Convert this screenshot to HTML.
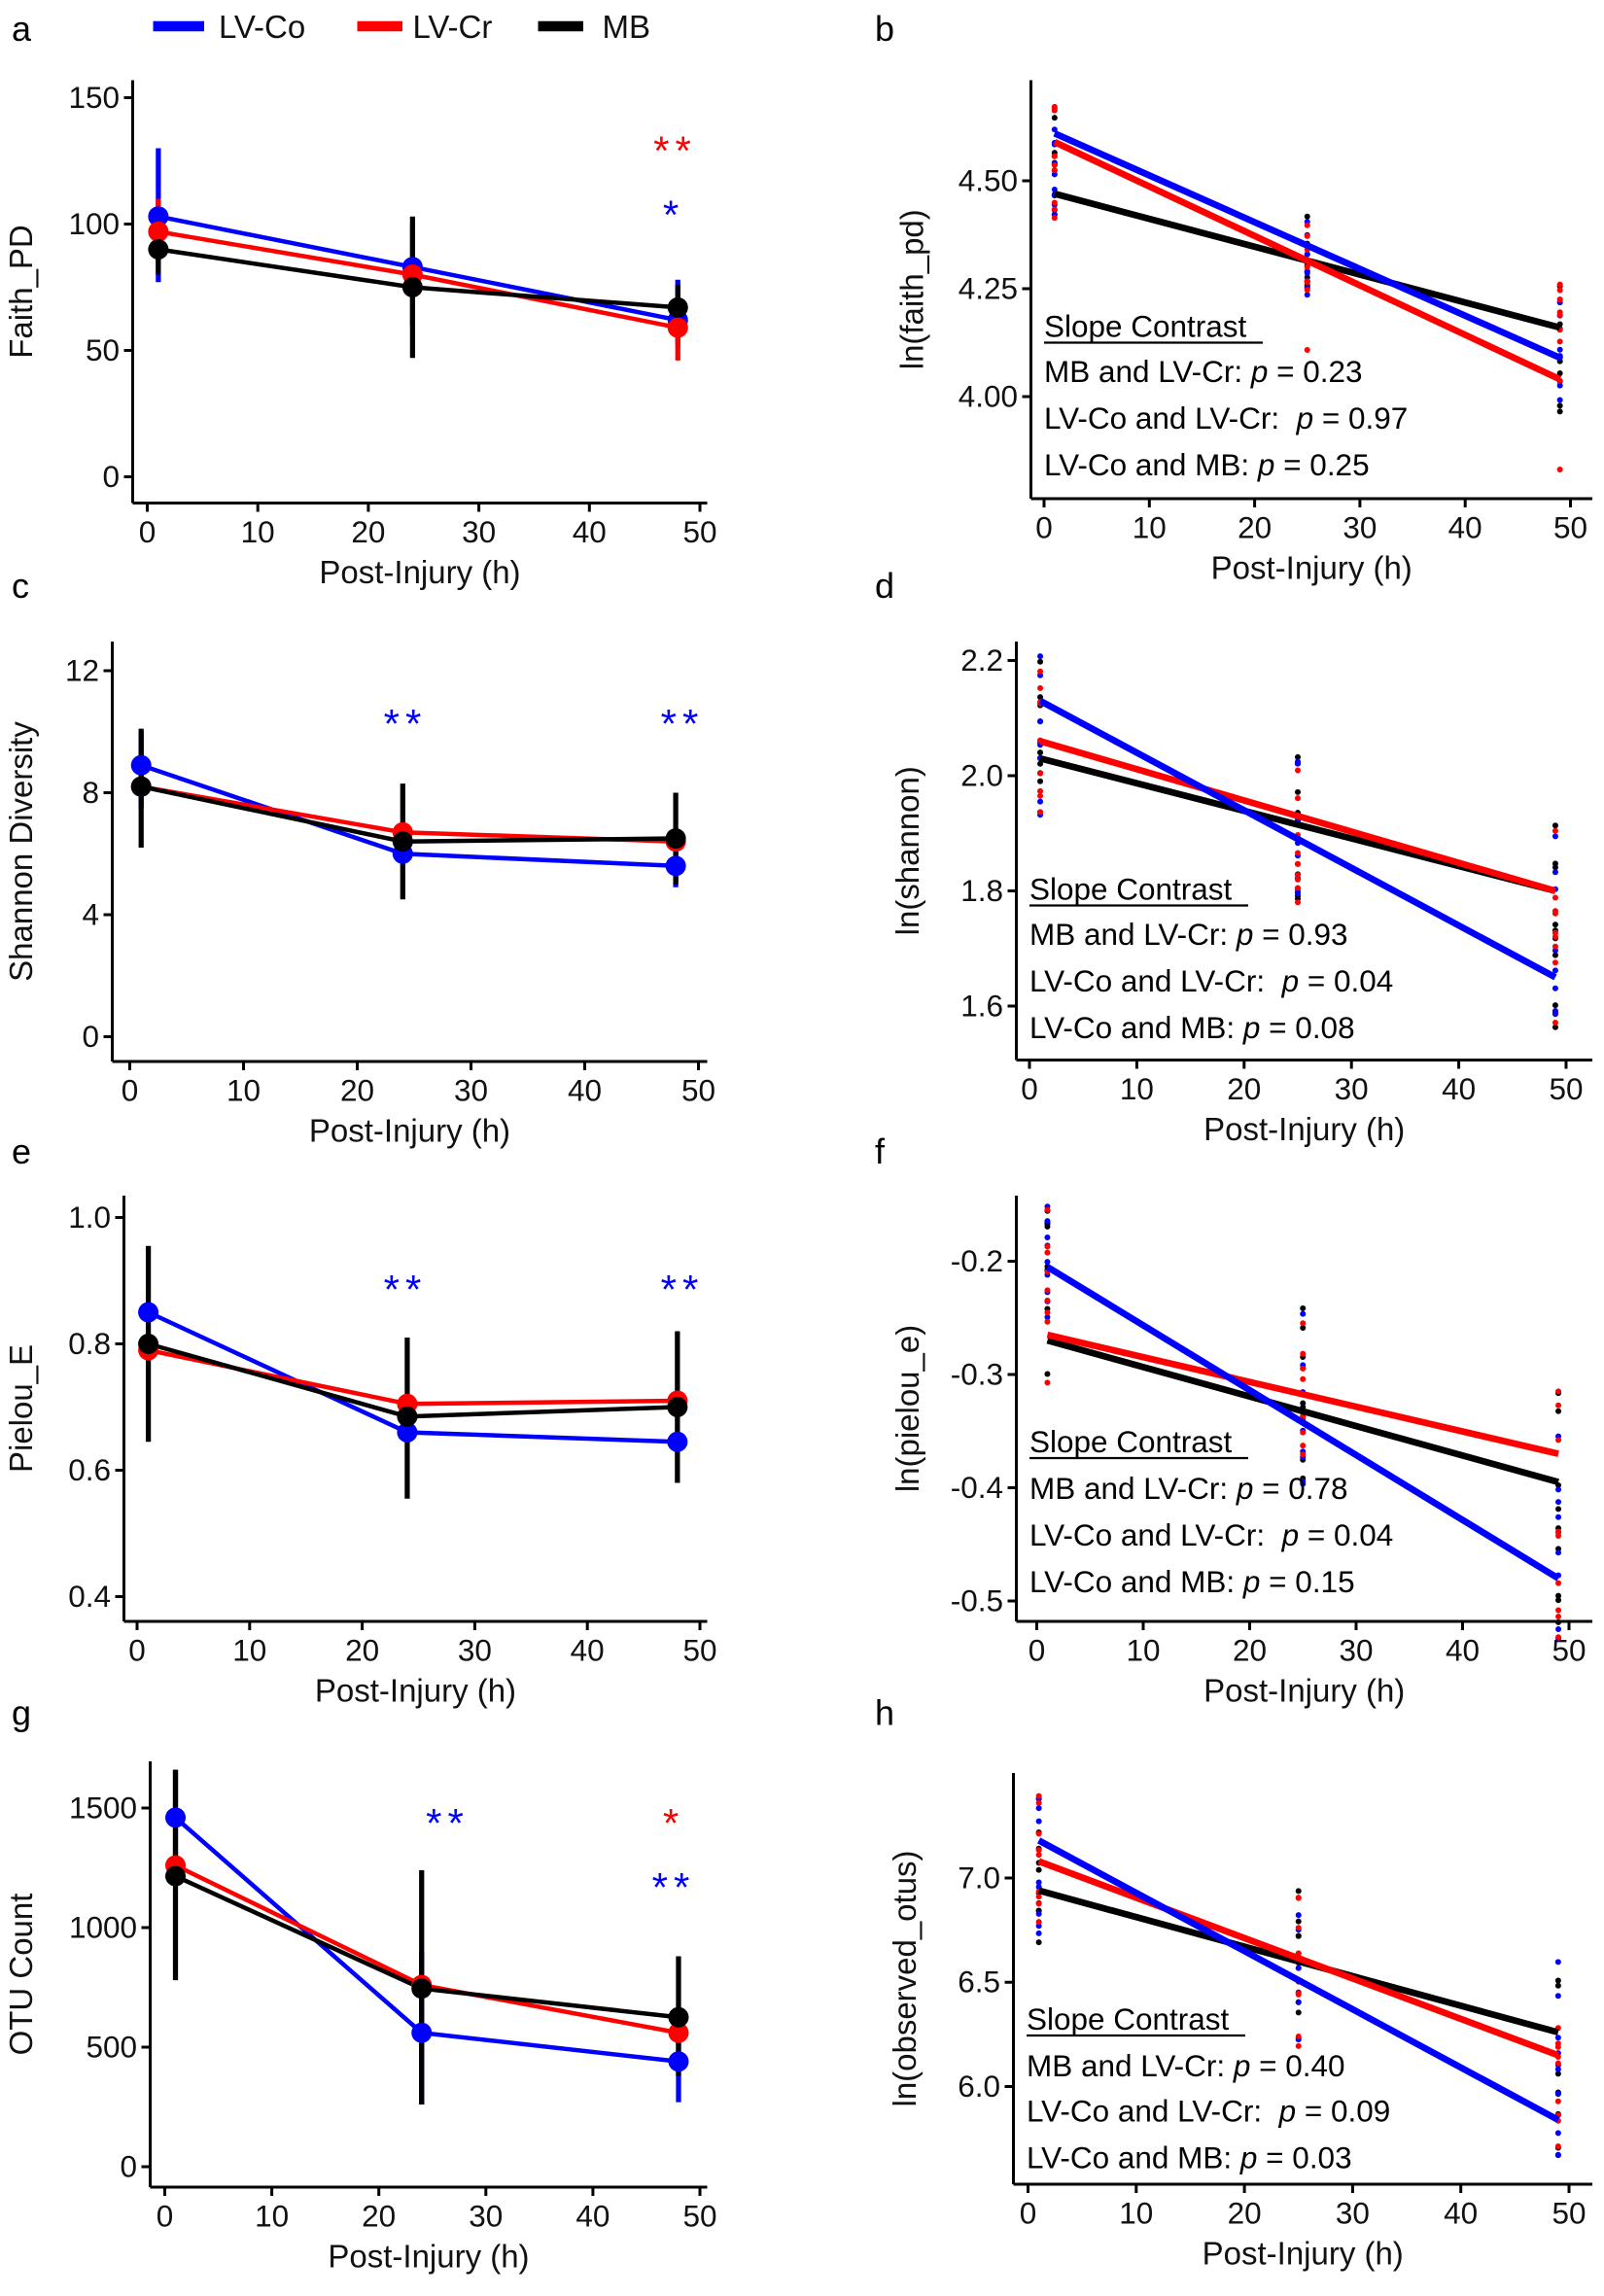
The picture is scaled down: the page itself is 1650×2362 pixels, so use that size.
<!DOCTYPE html>
<html><head><meta charset="utf-8">
<style>
html,body{margin:0;padding:0;background:#fff;}
svg{display:block;}
text{font-family:"Liberation Sans",sans-serif;}
.tk{font-family:"Liberation Sans Narrow","Liberation Sans",sans-serif;font-size:21px;fill:#111;}
.at{font-size:22px;fill:#111;}
.pl{font-size:24px;fill:#000;}
.sc{font-size:21px;fill:#000;}
</style></head><body>
<svg id="s" width="1650" height="2362" viewBox="0 0 1100 1574.67" xmlns="http://www.w3.org/2000/svg"></svg>
<script>
const S=document.getElementById('s');let h='';
const C={b:'#0000ff',r:'#ff0000',k:'#000000'};
function lin(a0,p0,a1,p1){return v=>p0+(v-a0)*(p1-p0)/(a1-a0);}
function axes(o){
 const X=lin(0,o.x0,50,o.x50),Y=lin(o.yt[0],o.yp[0],o.yt[1],o.yp[1]);
 h+=`<line x1="${o.ax}" y1="${o.top}" x2="${o.ax}" y2="${o.ay}" stroke="#000" stroke-width="2"/>`;
 h+=`<line x1="${o.ax}" y1="${o.ay}" x2="${o.right}" y2="${o.ay}" stroke="#000" stroke-width="2"/>`;
 for(let t=0;t<=50;t+=10){const x=X(t);h+=`<line x1="${x}" y1="${o.ay}" x2="${x}" y2="${o.ay+6}" stroke="#000" stroke-width="2"/><text class="tk" x="${x}" y="${o.ay+27}" text-anchor="middle">${t}</text>`;}
 o.yticks.forEach(t=>{const y=Y(t[0]);h+=`<line x1="${o.ax-6}" y1="${y}" x2="${o.ax}" y2="${y}" stroke="#000" stroke-width="2"/><text class="tk" x="${o.ax-9}" y="${y+7}" text-anchor="end">${t[1]}</text>`;});
 h+=`<text class="at" x="${(o.ax+o.right)/2}" y="${o.ay+55}" text-anchor="middle">Post-Injury (h)</text>`;
 const cy=(o.top+o.ay)/2;
 h+=`<text class="at" x="0" y="0" text-anchor="middle" transform="translate(${o.lx},${cy}) rotate(-90)">${o.yl}</text>`;
 return [X,Y];
}
function left(o,data,err,stars){
 const [X,Y]=axes(o);
 err.forEach(e=>{h+=`<line x1="${X(e[0])}" y1="${Y(e[2])}" x2="${X(e[0])}" y2="${Y(e[3])}" stroke="${C[e[1]]}" stroke-width="3.5"/>`;});
 ['b','r','k'].forEach(c=>{const d=data[c];h+=`<polyline fill="none" stroke="${C[c]}" stroke-width="3" points="${d.map(p=>X(p[0])+','+Y(p[1])).join(' ')}"/>`;});
 ['b','r','k'].forEach(c=>{data[c].forEach(p=>{h+=`<circle cx="${X(p[0])}" cy="${Y(p[1])}" r="7" fill="${C[c]}"/>`;});});
 stars.forEach(s=>{h+=`<text x="${s[0]}" y="${s[1]+12}" text-anchor="middle" style="font-size:28px;fill:${C[s[2]]};letter-spacing:4px">${s[3]}</text>`;});
}
let seed=7;function rnd(){seed=(seed*9301+49297)%233280;return seed/233280;}
function right(o,lines,cols,txt){
 const [X,Y]=axes(o);
 cols.forEach(cl=>{['k','b','r'].forEach(c=>{for(let i=0;i<9;i++){const v=cl[1]+(cl[2]-cl[1])*rnd();h+=`<circle cx="${X(cl[0])}" cy="${Y(v)}" r="2" fill="${C[c]}"/>`;}});});
 ['k','r','b'].forEach(c=>{const l=lines[c];h+=`<line x1="${X(1)}" y1="${Y(l[0])}" x2="${X(49)}" y2="${Y(l[1])}" stroke="${C[c]}" stroke-width="4.5"/>`;});
 const tx=o.ax+9;
 h+=`<text class="sc" x="${tx}" y="${txt[0]+8}">Slope Contrast</text>`;
 h+=`<line x1="${tx}" y1="${txt[0]+12}" x2="${tx+150}" y2="${txt[0]+12}" stroke="#000" stroke-width="1.5"/>`;
 const L=['MB and LV-Cr: ','LV-Co and LV-Cr:  ','LV-Co and MB: '];
 for(let i=0;i<3;i++)h+=`<text class="sc" x="${tx}" y="${txt[i+1]+8}" xml:space="preserve">${L[i]}<tspan font-style="italic">p</tspan> = ${txt[4][i]}</text>`;
}
h+=`<line x1="105" y1="18" x2="140" y2="18" stroke="${C.b}" stroke-width="7"/><text class="at" x="150" y="26">LV-Co</text>`;
h+=`<line x1="245" y1="18" x2="276" y2="18" stroke="${C.r}" stroke-width="7"/><text class="at" x="283" y="26">LV-Cr</text>`;
h+=`<line x1="369" y1="18" x2="400" y2="18" stroke="${C.k}" stroke-width="7"/><text class="at" x="413" y="26">MB</text>`;
[['a',8,28],['b',600,28],['c',8,410],['d',600,410],['e',8,798],['f',600,798],['g',8,1183],['h',600,1183]].forEach(p=>h+=`<text class="pl" x="${p[1]}" y="${p[2]}">${p[0]}</text>`);
left({ax:91,ay:345,top:55,right:485,x0:101,x50:480,yt:[0,150],yp:[327,67],yticks:[[0,'0'],[50,'50'],[100,'100'],[150,'150']],lx:22,yl:'Faith_PD'},
 {b:[[1,103],[24,83],[48,62]],r:[[1,97],[24,80],[48,59]],k:[[1,90],[24,75],[48,67]]},
 [[1,'b',77,130],[1,'r',85,110],[1,'k',80,100],[24,'r',60,100],[24,'k',47,103],[48,'b',52,78],[48,'r',46,70],[48,'k',56,76]],
 [[463,101,'r','**'],[462,145,'b','*']]);
right({ax:707,ay:342,top:55,right:1092,x0:716,x50:1077,yt:[4.0,4.5],yp:[272,124],yticks:[[4,'4.00'],[4.25,'4.25'],[4.5,'4.50']],lx:633,yl:'ln(faith_pd)'},
 {b:[4.61,4.09],r:[4.59,4.04],k:[4.47,4.16]},[[1,4.40,4.68],[25,4.22,4.42],[49,3.95,4.27]],[223,254,286,318,['0.23','0.97','0.25']]);
h+=`<circle cx="${716+49*7.22}" cy="322" r="2" fill="red"/><circle cx="${716+25*7.22}" cy="240" r="2" fill="red"/>`;
left({ax:77,ay:728,top:440,right:485,x0:89,x50:479,yt:[0,12],yp:[711,460],yticks:[[0,'0'],[4,'4'],[8,'8'],[12,'12']],lx:22,yl:'Shannon Diversity'},
 {b:[[1,8.9],[24,6.0],[48,5.6]],r:[[1,8.2],[24,6.7],[48,6.4]],k:[[1,8.2],[24,6.4],[48,6.5]]},
 [[1,'b',7.5,10],[1,'k',6.2,10.1],[24,'k',4.5,8.3],[48,'b',4.9,6.5],[48,'k',5.0,8.0]],
 [[278,494,'b','**'],[468,494,'b','**']]);
right({ax:697,ay:727,top:440,right:1092,x0:706,x50:1074,yt:[1.6,2.2],yp:[690,453],yticks:[[1.6,'1.6'],[1.8,'1.8'],[2.0,'2.0'],[2.2,'2.2']],lx:630,yl:'ln(shannon)'},
 {b:[2.13,1.65],r:[2.06,1.80],k:[2.03,1.80]},[[1,1.93,2.21],[25,1.78,2.07],[49,1.56,1.94]],[609,640,672,704,['0.93','0.04','0.08']]);
left({ax:85,ay:1112,top:820,right:485,x0:94,x50:480,yt:[0.4,1.0],yp:[1095,835],yticks:[[0.4,'0.4'],[0.6,'0.6'],[0.8,'0.8'],[1.0,'1.0']],lx:22,yl:'Pielou_E'},
 {b:[[1,.85],[24,.66],[48,.645]],r:[[1,.79],[24,.705],[48,.71]],k:[[1,.80],[24,.685],[48,.70]]},
 [[1,'k',.645,.955],[24,'k',.555,.81],[48,'k',.58,.82]],
 [[278,882,'b','**'],[468,882,'b','**']]);
right({ax:697,ay:1112,top:820,right:1092,x0:711,x50:1076,yt:[-0.5,-0.2],yp:[1098,865],yticks:[[-0.5,'-0.5'],[-0.4,'-0.4'],[-0.3,'-0.3'],[-0.2,'-0.2']],lx:630,yl:'ln(pielou_e)'},
 {b:[-0.205,-0.48],r:[-0.265,-0.37],k:[-0.27,-0.395]},[[1,-0.32,-0.15],[25,-0.40,-0.24],[49,-0.54,-0.29]],[988,1020,1052,1084,['0.78','0.04','0.15']]);
left({ax:103,ay:1500,top:1208,right:485,x0:113,x50:480,yt:[0,1500],yp:[1486,1240],yticks:[[0,'0'],[500,'500'],[1000,'1000'],[1500,'1500']],lx:22,yl:'OTU Count'},
 {b:[[1,1460],[24,560],[48,440]],r:[[1,1260],[24,760],[48,560]],k:[[1,1215],[24,745],[48,625]]},
 [[1,'b',1200,1660],[1,'k',780,1660],[24,'b',260,900],[24,'k',260,1240],[48,'b',270,620],[48,'k',380,880]],
 [[307,1248,'b','**'],[462,1248,'r','*'],[462,1292,'b','**']]);
right({ax:695,ay:1498,top:1216,right:1092,x0:705,x50:1076,yt:[6.0,7.0],yp:[1431,1288],yticks:[[6,'6.0'],[6.5,'6.5'],[7,'7.0']],lx:628,yl:'ln(observed_otus)'},
 {b:[7.18,5.84],r:[7.08,6.15],k:[6.94,6.26]},[[1,6.67,7.42],[25,6.12,6.97],[49,5.62,6.62]],[1384,1416,1447,1479,['0.40','0.09','0.03']]);
S.innerHTML=h;
</script>
</body></html>
